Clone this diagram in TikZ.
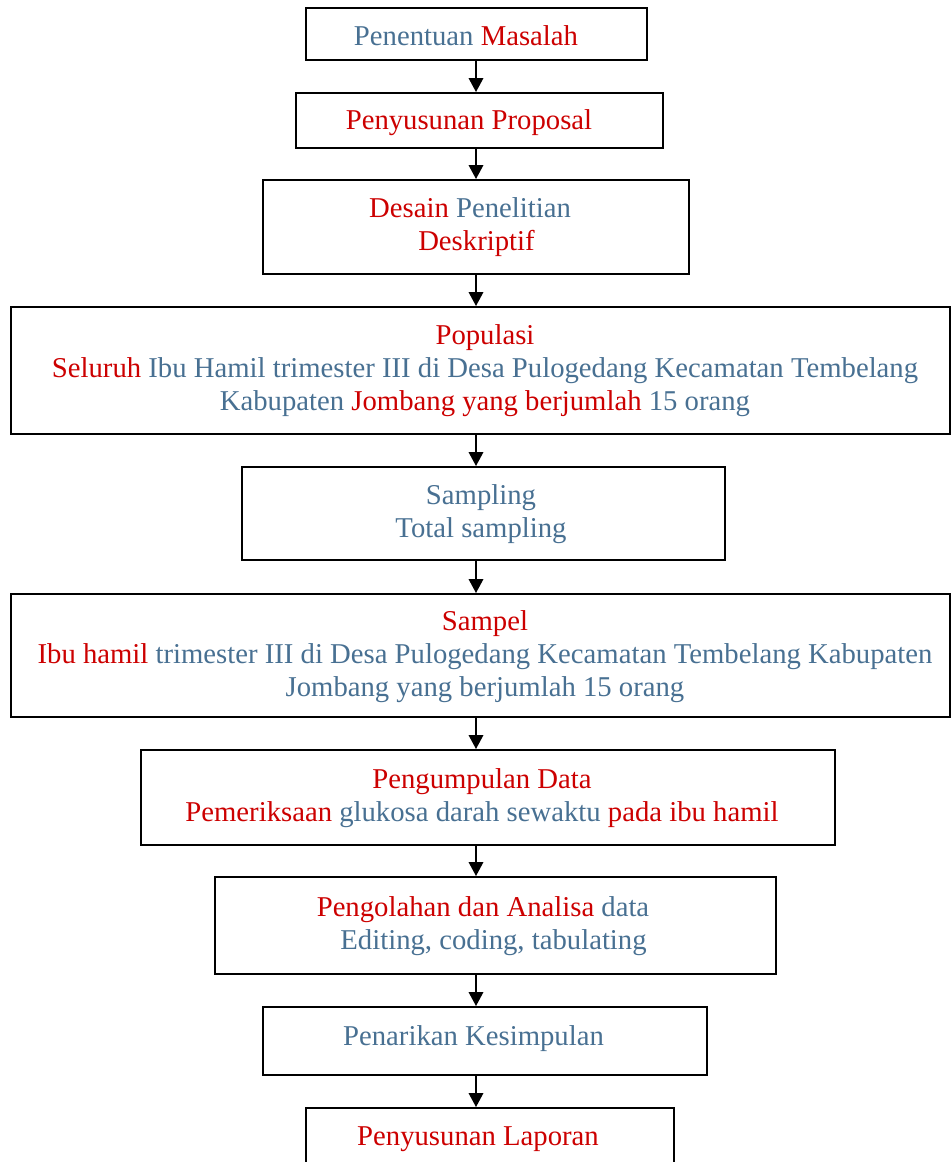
\documentclass[tikz,border=0pt]{standalone}
\usepackage{fontspec}
\setmainfont{Liberation Serif}
\usetikzlibrary{fit,arrows.meta}
\definecolor{merah}{RGB}{204,0,0}
\definecolor{biru}{RGB}{72,112,146}
\newcommand{\mr}[1]{\textcolor{merah}{#1}}

\begin{document}
\begin{tikzpicture}[x=0.418pt,y=-0.418pt]
                        \tikzstyle{kotak}=[draw, line width=0.8pt, inner sep=0pt]
                        \tikzstyle{teks}=[anchor=base, align=center, inner sep=0pt, text=biru, font=\fontsize{12}{13.6}\selectfont]
                        \tikzstyle{panah}=[line width=0.85pt, -{Triangle[length=5.8pt,width=6pt]}]
                        \useasboundingbox (0,0) rectangle (951,1162);
                        \coordinate (poros) at (476,0);

                        \node[kotak, fit={(306,8) (647,60)}] (masalah) {};
                        \node[kotak, fit={(296,93) (663,148)}] (proposal) {};
                        \node[kotak, fit={(263,180) (689,274)}] (desain) {};
                        \node[kotak, fit={(11,307) (950,434)}] (populasi) {};
                        \node[kotak, fit={(242,467) (725,560)}] (sampling) {};
                        \node[kotak, fit={(11,594) (950,717)}] (sampel) {};
                        \node[kotak, fit={(141,750) (835,845)}] (kumpul) {};
                        \node[kotak, fit={(215,877) (776,974)}] (olah) {};
                        \node[kotak, fit={(263,1007) (707,1075)}] (simpul) {};
                        \node[kotak, fit={(306,1108) (674,1200)}] (laporan) {};

                        \node[teks] (t-masalah) at (466,45.7) {Penentuan \mr{Masalah}};
                        \node[teks] (t-proposal) at (469,129.3) {\mr{Penyusunan Proposal}};
                        \node[teks] (t-desain) at (470,250) {\mr{Desain} Penelitian\\
                            \hspace*{5.4pt}\mr{Deskriptif}};
                        \node[teks] (t-populasi) at (485,410) {\mr{Populasi}\\
                            \mr{Seluruh} Ibu Hamil trimester III di Desa Pulogedang Kecamatan Tembelang\\
                            Kabupaten \mr{Jombang yang berjumlah} 15 orang};
                        \node[teks] (t-sampling) at (481,537) {Sampling\\
                            Total sampling};
                        \node[teks] (t-sampel) at (485,696) {\mr{Sampel}\\
                            \mr{Ibu hamil} trimester III di Desa Pulogedang Kecamatan Tembelang Kabupaten\\
                            Jombang yang berjumlah 15 orang};
                        \node[teks] (t-kumpul) at (482,821) {\mr{Pengumpulan Data}\\
                            \mr{Pemeriksaan} glukosa darah sewaktu \mr{pada ibu hamil}};
                        \node[teks] (t-olah) at (483,949) {\mr{Pengolahan dan Analisa} data\\
                            \hspace*{8.8pt}Editing, coding, tabulating};
                        \node[teks] (t-simpul) at (473.5,1045.7) {Penarikan Kesimpulan};
                        \node[teks] (t-laporan) at (478,1145) {\mr{Penyusunan Laporan}};

                        \draw[panah] (masalah.south -| poros) -- (proposal.north -| poros);
                        \draw[panah] (proposal.south -| poros) -- (desain.north -| poros);
                        \draw[panah] (desain.south -| poros) -- (populasi.north -| poros);
                        \draw[panah] (populasi.south -| poros) -- (sampling.north -| poros);
                        \draw[panah] (sampling.south -| poros) -- (sampel.north -| poros);
                        \draw[panah] (sampel.south -| poros) -- (kumpul.north -| poros);
                        \draw[panah] (kumpul.south -| poros) -- (olah.north -| poros);
                        \draw[panah] (olah.south -| poros) -- (simpul.north -| poros);
                        \draw[panah] (simpul.south -| poros) -- (laporan.north -| poros);
\end{tikzpicture}
\end{document}
